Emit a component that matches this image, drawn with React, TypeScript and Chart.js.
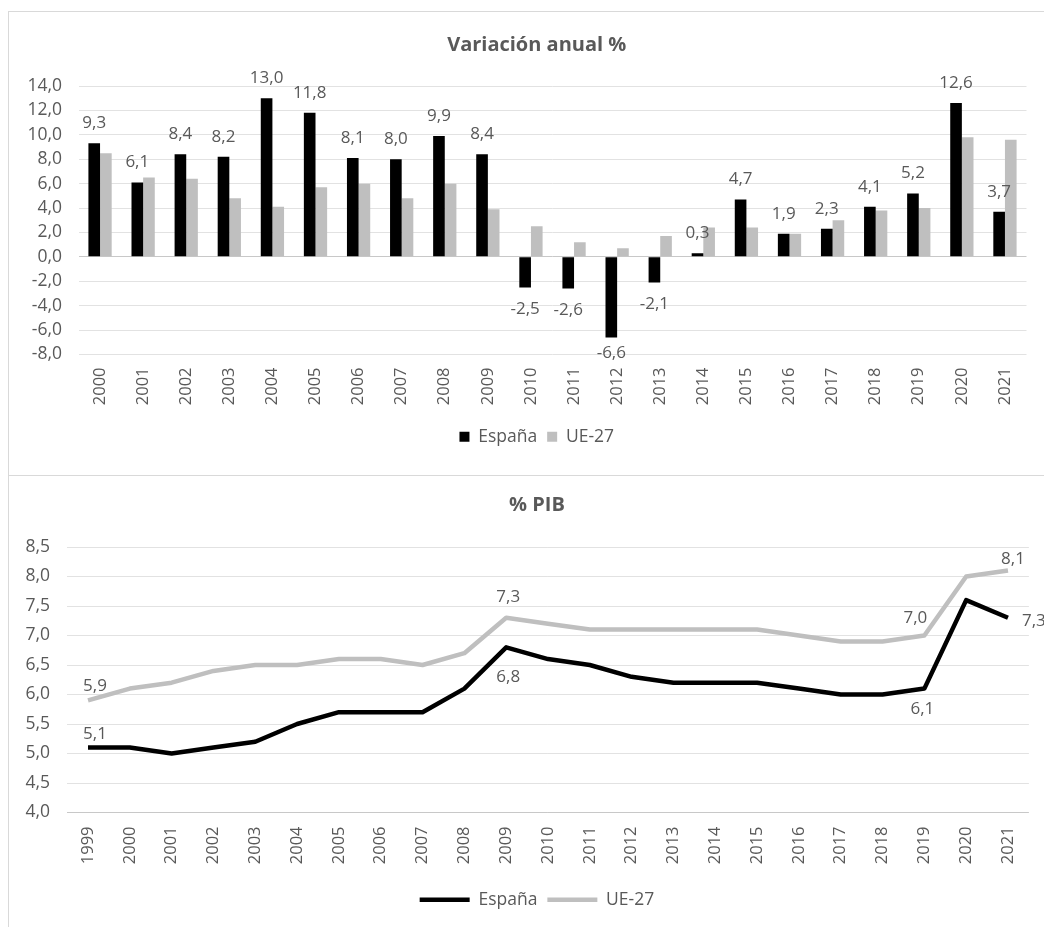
import React, { useEffect, useRef } from 'react';
import { Chart, registerables } from 'chart.js';

Chart.register(...registerables);

// ---------- Data ----------
const barYears = ['2000', '2001', '2002', '2003', '2004', '2005', '2006', '2007', '2008', '2009', '2010', '2011', '2012', '2013', '2014', '2015', '2016', '2017', '2018', '2019', '2020', '2021'];
const barEspana = [9.3, 6.1, 8.4, 8.2, 13.0, 11.8, 8.1, 8.0, 9.9, 8.4, -2.5, -2.6, -6.6, -2.1, 0.3, 4.7, 1.9, 2.3, 4.1, 5.2, 12.6, 3.7];
const barUE = [8.5, 6.5, 6.4, 4.8, 4.1, 5.7, 6.0, 4.8, 6.0, 3.9, 2.5, 1.2, 0.7, 1.7, 2.4, 2.4, 1.9, 3.0, 3.8, 4.0, 9.8, 9.6];
const barYMin = -8;
const barYMax = 14;
const barYStep = 2;

const lineYears = ['1999', '2000', '2001', '2002', '2003', '2004', '2005', '2006', '2007', '2008', '2009', '2010', '2011', '2012', '2013', '2014', '2015', '2016', '2017', '2018', '2019', '2020', '2021'];
const lineEspana = [5.1, 5.1, 5.0, 5.1, 5.2, 5.5, 5.7, 5.7, 5.7, 6.1, 6.8, 6.6, 6.5, 6.3, 6.2, 6.2, 6.2, 6.1, 6.0, 6.0, 6.1, 7.6, 7.3];
const lineUE = [5.9, 6.1, 6.2, 6.4, 6.5, 6.5, 6.6, 6.6, 6.5, 6.7, 7.3, 7.2, 7.1, 7.1, 7.1, 7.1, 7.1, 7.0, 6.9, 6.9, 7.0, 8.0, 8.1];
const lineYMin = 4.0;
const lineYMax = 8.5;
const lineYStep = 0.5;

const seriesNames = ['España', 'UE-27'];
const titleBar = 'Variación anual %';
const titleLine = '% PIB';

// indices of labelled points in the line chart
const lineLabelIdxEspana = [0, 10, 20, 22];
const lineLabelIdxUE = [0, 10, 20, 22];

// ---------- Styles ----------
const FONT = '"Open Sans", Lato, sans-serif';
const TEXT = '#595959';
const GRID = '#e2e2e2';
const BLACK = '#000000';
const GRAY = '#bfbfbf';

const fmt = (v: number) => Number(v).toFixed(1).replace('.', ',');

// label placement (dx, dy, align) for labelled line points
const espPlacement: Record<number, [number, number, CanvasTextAlign]> = {
  0: [7, -13, 'center'],
  10: [2, 30, 'center'],
  20: [-2, 21, 'center'],
  22: [14, 3, 'left'],
};
const uePlacement: Record<number, [number, number, CanvasTextAlign]> = {
  0: [7, -14, 'center'],
  10: [2, -21, 'center'],
  20: [-9, -17, 'center'],
  22: [5, -11, 'center'],
};

const LABEL_FONT = `17px ${FONT}`;

const barLabelPlugin = {
  id: 'barLabels',
  afterDatasetsDraw(chart: any) {
    const meta = chart.getDatasetMeta(0);
    const ctx = chart.ctx;
    const bottom = chart.chartArea.bottom;
    ctx.save();
    ctx.font = LABEL_FONT;
    ctx.fillStyle = TEXT;
    ctx.textAlign = 'center';
    ctx.textBaseline = 'middle';
    meta.data.forEach((bar: any, i: number) => {
      const v = barEspana[i];
      const y = v >= 0 ? bar.y - 20 : Math.min(bar.y + 22, bottom - 1);
      ctx.fillText(fmt(v), bar.x, y);
    });
    ctx.restore();
  },
};

const lineLabelPlugin = {
  id: 'lineLabels',
  afterDatasetsDraw(chart: any) {
    const ctx = chart.ctx;
    ctx.save();
    ctx.font = LABEL_FONT;
    ctx.fillStyle = TEXT;
    ctx.textBaseline = 'middle';
    const draw = (dsIndex: number, idxs: number[], data: number[], place: Record<number, [number, number, CanvasTextAlign]>) => {
      const meta = chart.getDatasetMeta(dsIndex);
      idxs.forEach((i) => {
        const pt = meta.data[i];
        const [dx, dy, align] = place[i];
        ctx.textAlign = align;
        ctx.fillText(fmt(data[i]), pt.x + dx, pt.y + dy);
      });
    };
    draw(0, lineLabelIdxEspana, lineEspana, espPlacement);
    draw(1, lineLabelIdxUE, lineUE, uePlacement);
    ctx.restore();
  },
};

// the original chart frame is wider than the visible page: title and legend are centred a bit to the right
const centreShift = (shift: number) => ({
  id: 'centreShift',
  afterLayout(chart: any) {
    for (const b of [chart.titleBlock, chart.legend]) {
      if (b) {
        b.left += shift;
        b.right += shift;
      }
    }
  },
});

const yTickFont = { family: FONT, size: 17.5 };
const xTickFont = { family: FONT, size: 16.5 };
const legendFont = { family: FONT, size: 17.5 };
const titleFont = { family: FONT, size: 20, weight: 'bold' as const };

export default function App() {
  const barRef = useRef<HTMLCanvasElement>(null);
  const lineRef = useRef<HTMLCanvasElement>(null);

  useEffect(() => {
    document.documentElement.style.overflow = 'hidden';
    document.body.style.overflow = 'hidden';

    const barChart = new Chart(barRef.current as HTMLCanvasElement, {
      type: 'bar',
      data: {
        labels: barYears,
        datasets: [
          { label: seriesNames[0], data: barEspana, backgroundColor: BLACK, categoryPercentage: 0.54, barPercentage: 1.0 },
          { label: seriesNames[1], data: barUE, backgroundColor: GRAY, categoryPercentage: 0.54, barPercentage: 1.0 },
        ],
      },
      options: {
        animation: false,
        responsive: false,
        layout: { padding: { left: 0, right: 25.5, top: 0, bottom: 19.5 } },
        plugins: {
          title: { display: true, text: titleBar, color: TEXT, font: titleFont, padding: { top: 21, bottom: 29 } },
          legend: {
            position: 'bottom',
            labels: { boxWidth: 10, boxHeight: 10, color: TEXT, font: legendFont, padding: 10 },
          },
          tooltip: { enabled: false },
        },
        scales: {
          x: {
            grid: { display: false, drawTicks: false },
            border: { display: false },
            ticks: { color: TEXT, font: xTickFont, minRotation: 90, maxRotation: 90, padding: 13, autoSkip: false },
            afterFit: (s: any) => { s.height = 63.5; },
          },
          y: {
            min: barYMin,
            max: barYMax,
            ticks: { stepSize: barYStep, color: TEXT, font: yTickFont, padding: 16.5, callback: (v: any) => fmt(v) },
            grid: { color: (c: any) => (c.tick && c.tick.value === 0 ? '#c8c8c8' : GRID), drawTicks: false, lineWidth: 1 },
            border: { display: false },
            afterFit: (s: any) => { s.width = 69.5; },
          },
        },
      },
      plugins: [barLabelPlugin, centreShift(19)],
    });

    const lineChart = new Chart(lineRef.current as HTMLCanvasElement, {
      type: 'line',
      data: {
        labels: lineYears,
        datasets: [
          { label: seriesNames[0], data: lineEspana, borderColor: BLACK, backgroundColor: BLACK, borderWidth: 4.5, pointRadius: 0, tension: 0, borderJoinStyle: 'round' },
          { label: seriesNames[1], data: lineUE, borderColor: GRAY, backgroundColor: GRAY, borderWidth: 4.5, pointRadius: 0, tension: 0, borderJoinStyle: 'round' },
        ],
      },
      options: {
        animation: false,
        responsive: false,
        layout: { padding: { left: 0, right: 23.1, top: 0, bottom: 8.5 } },
        plugins: {
          title: { display: true, text: titleLine, color: TEXT, font: titleFont, padding: { top: 17, bottom: 30 } },
          legend: {
            position: 'bottom',
            labels: { usePointStyle: true, pointStyle: 'line', pointStyleWidth: 50, color: TEXT, font: legendFont, padding: 10 },
          },
          tooltip: { enabled: false },
        },
        scales: {
          x: {
            type: 'category',
            offset: true,
            grid: { display: false, drawTicks: false },
            border: { display: false },
            ticks: { color: TEXT, font: xTickFont, minRotation: 90, maxRotation: 90, padding: 14, autoSkip: false },
            afterFit: (s: any) => { s.height = 68.5; },
          },
          y: {
            min: lineYMin,
            max: lineYMax,
            ticks: { stepSize: lineYStep, color: TEXT, font: yTickFont, padding: 17, callback: (v: any) => fmt(v) },
            grid: { color: (c: any) => (c.tick && c.tick.value === lineYMin ? '#c8c8c8' : GRID), drawTicks: false, lineWidth: 1 },
            border: { display: false },
            afterFit: (s: any) => { s.width = 58.1; },
          },
        },
      },
      plugins: [lineLabelPlugin, centreShift(18)],
    });

    return () => {
      barChart.destroy();
      lineChart.destroy();
    };
  }, []);

  const box = { borderTop: '1px solid #d9d9d9', borderLeft: '1px solid #d9d9d9' };

  return (
    <div style={{ marginTop: 3, width: 1044, overflow: 'hidden' }}>
      <div style={{ ...box, height: 463 }}>
        <canvas ref={barRef} width={1043} height={463} style={{ display: 'block' }} />
      </div>
      <div style={{ ...box, height: 451 }}>
        <canvas ref={lineRef} width={1043} height={451} style={{ display: 'block' }} />
      </div>
    </div>
  );
}
